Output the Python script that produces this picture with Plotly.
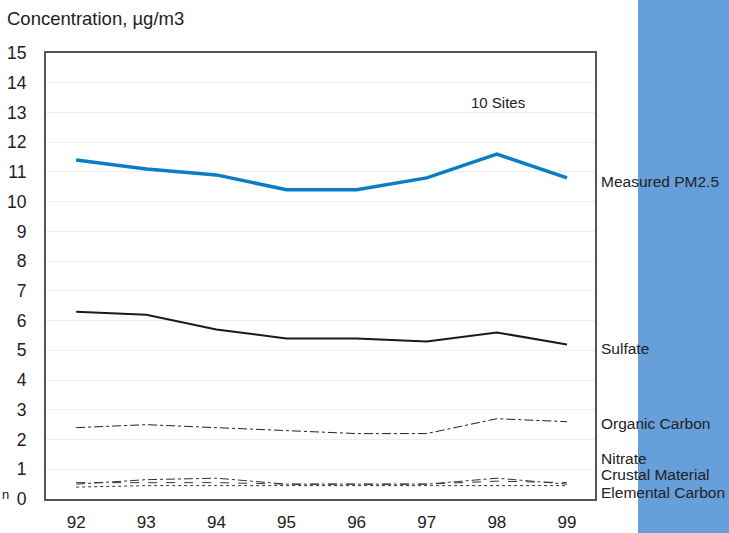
import plotly.graph_objects as go

years = [92, 93, 94, 95, 96, 97, 98, 99]
year_labels = ["92", "93", "94", "95", "96", "97", "98", "99"]
pm25 = [11.4, 11.1, 10.9, 10.4, 10.4, 10.8, 11.6, 10.8]
sulfate = [6.3, 6.2, 5.7, 5.4, 5.4, 5.3, 5.6, 5.2]
organic = [2.4, 2.5, 2.4, 2.3, 2.2, 2.2, 2.7, 2.6]
nitrate = [0.5, 0.65, 0.7, 0.5, 0.5, 0.5, 0.7, 0.5]
crustal = [0.55, 0.55, 0.55, 0.5, 0.5, 0.5, 0.6, 0.55]
elemental = [0.4, 0.45, 0.45, 0.45, 0.45, 0.45, 0.45, 0.45]
y_ticks = list(range(0, 16))

FONT = "Liberation Sans, Arial, sans-serif"
W, H = 729, 533
L, R, T, B = 46, 134, 53, 34
pw, ph = W - L - R, H - T - B

def px(x):
    return (x - L) / pw

def py(y):
    return (H - B - y) / ph

fig = go.Figure()
fig.add_trace(go.Scatter(x=years, y=elemental, mode="lines",
                         line=dict(color="#333", width=1, dash="dot")))
fig.add_trace(go.Scatter(x=years, y=crustal, mode="lines",
                         line=dict(color="#333", width=1, dash="dash")))
fig.add_trace(go.Scatter(x=years, y=nitrate, mode="lines",
                         line=dict(color="#333", width=1, dash="dashdot")))
fig.add_trace(go.Scatter(x=years, y=organic, mode="lines",
                         line=dict(color="#222", width=1, dash="dashdot")))
fig.add_trace(go.Scatter(x=years, y=sulfate, mode="lines",
                         line=dict(color="#1a1a1a", width=2)))
fig.add_trace(go.Scatter(x=years, y=pm25, mode="lines",
                         line=dict(color="#0a7dc4", width=3.5)))

fig.add_shape(type="rect", xref="paper", yref="paper",
              x0=px(638), x1=px(W + 2), y0=py(H + 2), y1=py(-2),
              fillcolor="#669fd9", line=dict(width=0), layer="below")

labels = [("Measured PM2.5", 181), ("Sulfate", 349), ("Organic Carbon", 423),
          ("Nitrate", 458), ("Crustal Material", 474), ("Elemental Carbon", 492)]
for txt, yy in labels:
    fig.add_annotation(text=txt, xref="paper", yref="paper", x=px(599), y=py(yy),
                       xanchor="left", yanchor="middle", showarrow=False,
                       font=dict(family=FONT, size=15.5, color="#222"))

fig.add_annotation(text="10 Sites", xref="paper", yref="paper", x=px(469), y=py(102),
                   xanchor="left", yanchor="middle", showarrow=False,
                   font=dict(family=FONT, size=15, color="#222"))
fig.add_annotation(text="Concentration, µg/m3", xref="paper", yref="paper", x=px(5), y=py(18),
                   xanchor="left", yanchor="middle", showarrow=False,
                   font=dict(family=FONT, size=18.5, color="#222"))
fig.add_annotation(text="n", xref="paper", yref="paper", x=px(0), y=py(494),
                   xanchor="left", yanchor="middle", showarrow=False,
                   font=dict(family=FONT, size=13, color="#222"))

fig.update_layout(
    width=W, height=H,
    margin=dict(l=L, r=R, t=T, b=B),
    paper_bgcolor="white", plot_bgcolor="white",
    showlegend=False,
    font=dict(family=FONT, size=17.5, color="#222"),
    xaxis=dict(range=[91.57, 99.4], tickvals=years, ticktext=year_labels,
               showgrid=False, zeroline=False, showline=True, mirror=True,
               linecolor="#555", linewidth=2, ticks="", ticklabelstandoff=7,
               automargin=False, tickfont=dict(size=17)),
    yaxis=dict(range=[0, 15], tickvals=y_ticks, showgrid=True, gridcolor="#eeeeee",
               gridwidth=1, zeroline=False, showline=True, mirror=True,
               linecolor="#555", linewidth=2, ticks="", ticklabelstandoff=14,
               automargin=False, tickfont=dict(size=17.5)),
)

fig.write_html("out.html", config={"displayModeBar": False},
               post_script="document.body.style.margin='0';document.body.style.overflow='hidden';")
